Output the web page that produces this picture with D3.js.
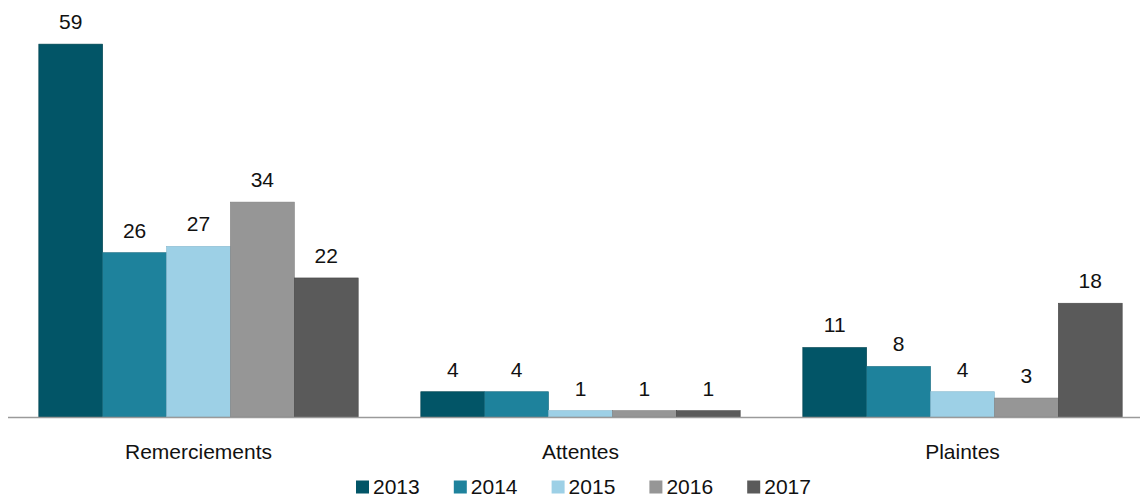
<!DOCTYPE html>
<html>
<head>
<meta charset="utf-8">
<script src="https://cdn.jsdelivr.net/npm/d3@7"></script>
<style>
  html, body { margin: 0; padding: 0; background: #fff; }
  svg { display: block; font-family: "Liberation Sans", Arial, Helvetica, sans-serif; }
</style>
</head>
<body>
<svg id="chart" width="1140" height="496"></svg>
<script>
const categories = ["Remerciements", "Attentes", "Plaintes"];
const years = ["2013", "2014", "2015", "2016", "2017"];
const values2013 = [59, 4, 11];
const values2014 = [26, 4, 8];
const values2015 = [27, 1, 4];
const values2016 = [34, 1, 3];
const values2017 = [22, 1, 18];
const seriesValues = [values2013, values2014, values2015, values2016, values2017];
const colors = ["#025567", "#1e829c", "#9dd0e6", "#969696", "#5a5a5a"];
const strokes = ["#01434f", "#176a80", "#86b8ce", "#7e7e7e", "#474747"];

const svg = d3.select("#chart");
const baseY = 417;
const fontSize = 21;

const x0 = d3.scaleBand().domain(categories).range([7.5, 1153.5]).padding(0);
const x1 = d3.scaleBand().domain(years).range([0, x0.bandwidth()]).paddingInner(0).paddingOuter(0.49);
const y = d3.scaleLinear().domain([0, 60]).range([baseY, baseY - 60 * 6.32]);

const rows = categories.map((c, i) => ({
  cat: c,
  vals: years.map((yr, j) => ({ year: yr, idx: j, v: seriesValues[j][i] }))
}));

const g = svg.selectAll("g.cat").data(rows).join("g")
  .attr("class", "cat")
  .attr("transform", d => `translate(${x0(d.cat)},0)`);

g.selectAll("rect").data(d => d.vals).join("rect")
  .attr("x", d => x1(d.year))
  .attr("y", d => y(d.v))
  .attr("width", x1.bandwidth())
  .attr("height", d => baseY - y(d.v))
  .attr("fill", d => colors[d.idx])
  .attr("stroke", d => strokes[d.idx])
  .attr("stroke-width", 0.6);

g.selectAll("text.val").data(d => d.vals).join("text")
  .attr("class", "val")
  .attr("x", d => x1(d.year) + x1.bandwidth() / 2)
  .attr("y", d => y(d.v) - 15)
  .attr("text-anchor", "middle")
  .attr("font-size", fontSize)
  .attr("fill", "#111")
  .text(d => d.v);

// baseline axis with category labels
const xAxis = d3.axisBottom(x0).tickSize(0).tickPadding(0);
const ax = svg.append("g").attr("transform", `translate(0,${baseY})`).call(xAxis);
ax.select(".domain").attr("stroke", "#9a9a9a").attr("stroke-width", 1.6)
  .attr("d", "M8,0.5H1140");
ax.selectAll("text")
  .attr("y", 41.5).attr("dy", null)
  .attr("font-size", fontSize).attr("fill", "#111")
  .attr("font-family", "\"Liberation Sans\", Arial, sans-serif");

// legend
const legend = svg.append("g").attr("transform", "translate(356,480.5)");
const li = legend.selectAll("g").data(years).join("g")
  .attr("transform", (d, i) => `translate(${i * 97.8},0)`);
li.append("rect").attr("width", 13).attr("height", 13)
  .attr("fill", (d, i) => colors[i]);
li.append("text").attr("x", 17).attr("y", 13.5).attr("font-size", fontSize)
  .attr("fill", "#111").text(d => d);
</script>
</body>
</html>
